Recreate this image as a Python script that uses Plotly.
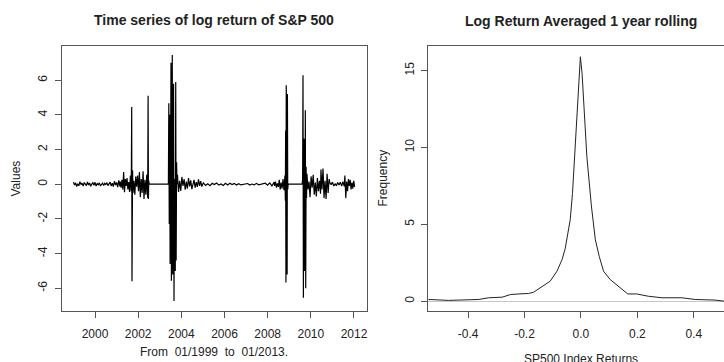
import numpy as np
import plotly.graph_objects as go

# ---------------- Data: time series of log returns ----------------
seg_a_vals = [0.12, -0.05, 0.08, -0.13, 0.03, -0.09, 0.15, -0.02, 0.06, -0.11, 0.10, 0.02,
              -0.08, 0.13, -0.04, 0.07, -0.12, 0.01, 0.09, -0.06, 0.11, -0.10, 0.04, -0.03,
              0.08, -0.09, 0.02, 0.06, -0.07, 0.05, -0.02, 0.09, -0.08, 0.03, 0.12, -0.10,
              0.06, -0.14, 0.18, -0.05, 0.10, -0.17, 0.22, -0.12]
seg_b_vals = [0.15, -0.20, 0.25, -0.30, 0.70, -0.46, 0.30, -0.10, 0.35, -0.30, 0.12, -0.45, 0.50, -0.40]
seg_c_vals = [4.45, -5.60, -1.20, 0.80]
seg_d_vals = [-0.50, 0.20, -0.60, 0.45, -0.15, 0.50, -0.40, 0.70, -0.75, 0.30, -0.50, 0.75,
              -0.85, 0.25, -0.60, 0.55, -0.80]
seg_e_vals = [5.10, -0.85, 0.20]
seg_f_vals = [0.0, 0.0]
seg_g_vals = [0.0, 4.67, -2.30, 4.00, -4.60, 0.30, 7.00, -5.57, 0.20, 7.45, -5.20, 0.40,
              5.80, -6.73, 0.30, 0.10, -5.00, 5.90, -4.40, 1.27, 0.0]
seg_h_vals = [0.55, -0.45, 0.20, -0.38, 0.42, -0.10, 0.30, -0.32, 0.15, -0.25, 0.35, -0.12,
              0.22, -0.28, 0.08, 0.25, -0.20, 0.12, -0.15, 0.28, -0.10, 0.18, -0.14, 0.06]
seg_i_vals = [0.08, -0.07, 0.03, -0.08, 0.05, -0.02, 0.07, -0.05, 0.01, -0.07, 0.05, -0.04,
              0.06, -0.02, 0.04, -0.05, 0.03, -0.04, 0.0, 0.0, 0.04, -0.05, 0.01, -0.04,
              0.05, -0.03, 0.0, 0.0, 0.06, -0.05, 0.08, -0.10, 0.12]
seg_j_vals = [-0.10, 0.15, -0.20, 0.05, -0.15, 0.25, -0.30, 0.10, -0.25, 0.30, -0.35, 0.50]
seg_k_vals = [-0.95, 3.10, -5.67, 5.70, -5.20, 2.50, -5.20, 5.20, -0.30]
seg_l_vals = [0.0, 0.0]
seg_m_vals = [0.30, 6.29, -6.54, 2.64, -5.00, 2.60, -5.00, 4.26, -6.00, 1.00, -0.80]
seg_n_vals = [0.60, -0.30, 0.15, -0.75, 0.45, -0.20, 0.55, -0.60, 0.10, -0.70, 0.35, -0.40, 0.20, -0.55]
seg_o_vals = [0.85, -0.30, 0.90, -0.80, 0.20, -0.85, 0.60, -0.50, 0.30]
seg_p_vals = [0.10, -0.03, 0.12, -0.10, 0.02, -0.09, 0.10, -0.04, 0.12, -0.10, 0.15, -0.12]
seg_q_vals = [0.50, -0.80, 0.15, -0.40, 0.30, -0.10, 0.25, -0.30, 0.10, -0.25, 0.20, -0.15]

segments = [
    (1999.00, 2001.15, seg_a_vals),
    (2001.17, 2001.68, seg_b_vals),
    (2001.70, 2001.74, seg_c_vals),
    (2001.76, 2002.44, seg_d_vals),
    (2002.46, 2002.49, seg_e_vals),
    (2002.51, 2003.38, seg_f_vals),
    (2003.40, 2003.80, seg_g_vals),
    (2003.82, 2005.00, seg_h_vals),
    (2005.02, 2008.30, seg_i_vals),
    (2008.32, 2008.80, seg_j_vals),
    (2008.82, 2008.93, seg_k_vals),
    (2008.95, 2009.60, seg_l_vals),
    (2009.62, 2009.80, seg_m_vals),
    (2009.82, 2010.45, seg_n_vals),
    (2010.47, 2010.85, seg_o_vals),
    (2010.88, 2011.55, seg_p_vals),
    (2011.58, 2012.03, seg_q_vals),
]

ts_years = []
ts_values = []
for start, end, vals in segments:
    ts_years.extend(np.linspace(start, end, len(vals)).tolist())
    ts_values.extend(vals)

# ---------------- Data: density of returns ----------------
dens_x = [-0.541, -0.469, -0.362, -0.327, -0.279, -0.250, -0.220, -0.186, -0.168, -0.138,
          -0.109, -0.085, -0.067, -0.056, -0.038, -0.030, -0.020, -0.011, -0.002, 0.004,
          0.013, 0.021, 0.037, 0.051, 0.065, 0.080, 0.104, 0.133, 0.157, 0.166, 0.198,
          0.239, 0.287, 0.357, 0.405, 0.475, 0.507]
dens_y = [0.11, 0.05, 0.11, 0.22, 0.26, 0.43, 0.47, 0.50, 0.58, 0.93,
          1.30, 1.95, 2.70, 3.40, 5.30, 7.00, 10.3, 13.1, 15.9, 14.8,
          12.2, 9.4, 6.2, 4.0, 2.9, 1.95, 1.40, 0.97, 0.65, 0.47, 0.47,
          0.32, 0.22, 0.22, 0.11, 0.07, 0.0]

ts_ticks = [2000, 2002, 2004, 2006, 2008, 2010, 2012]
ts_ytick_vals = [-6, -4, -2, 0, 2, 4, 6]
ts_ytick_text = ["-6", "-4", "-2", "0", "2", "4", "6"]
dens_xtick_vals = [-0.4, -0.2, 0.0, 0.2, 0.4]
dens_xtick_text = ["-0.4", "-0.2", "0.0", "0.2", "0.4"]
dens_ytick_vals = [0, 5, 10, 15]

title_left = "Time series of log return of S&P 500"
title_right = "Log Return Averaged 1 year rolling"
xlab_left = "From  01/1999  to  01/2013."
ylab_left = "Values"
xlab_right = "SP500 Index Returns"
ylab_right = "Frequency"

# ---------------- Figure ----------------
W, H = 724, 362
T, B = 46, 51
FONT = "Liberation Sans, Arial, sans-serif"
AX = "#555555"
TXT = "#222222"

fig = go.Figure()
fig.add_trace(go.Scatter(x=ts_years, y=ts_values, mode="lines",
                         line=dict(color="black", width=1.2), xaxis="x", yaxis="y",
                         hoverinfo="skip", showlegend=False))
fig.add_trace(go.Scatter(x=dens_x, y=dens_y, mode="lines",
                         line=dict(color="#222222", width=1), xaxis="x2", yaxis="y2",
                         hoverinfo="skip", showlegend=False))

common_axis = dict(showgrid=False, showline=True, linecolor=AX, linewidth=1,
                   ticks="outside", ticklen=6, tickcolor=AX, tickwidth=1,
                   tickfont=dict(family=FONT, size=12, color=TXT))

plot_h = H - T - B

fig.update_layout(
    width=W, height=H,
    margin=dict(l=0, r=0, t=T, b=B),
    paper_bgcolor="white", plot_bgcolor="white",
    showlegend=False,
    xaxis=dict(domain=[62 / W, 366.7 / W], range=[1998.47, 2012.59], mirror=True,
               tickvals=ts_ticks, ticktext=[str(t) for t in ts_ticks], anchor="y",
               zeroline=False, ticklabelstandoff=6, **common_axis),
    yaxis=dict(domain=[0, 1], range=[-7.31, 7.97], mirror=True, anchor="x",
               tickvals=ts_ytick_vals, ticktext=ts_ytick_text, tickangle=-90,
               zeroline=False, ticklabelstandoff=3, **common_axis),
    xaxis2=dict(domain=[428.3 / W, 1.0], range=[-0.541, 0.507], mirror=True, anchor="y2",
                tickvals=dens_xtick_vals, ticktext=dens_xtick_text,
                zeroline=False, ticklabelstandoff=6, **common_axis),
    yaxis2=dict(domain=[0, 1], range=[-0.64, 16.6], mirror=False, anchor="x2",
                tickvals=dens_ytick_vals, ticktext=[str(v) for v in dens_ytick_vals],
                tickangle=-90, ticklabelstandoff=3,
                zeroline=True, zerolinecolor="#c8c8c8", zerolinewidth=1, **common_axis),
)

def py(pix):
    return (H - B - pix) / plot_h

ann = [
    dict(text="<b>" + title_left + "</b>", x=213.5 / W, y=py(20), size=14, angle=0),
    dict(text="<b>" + title_right + "</b>", x=580.5 / W, y=py(21), size=14, angle=0),
    dict(text=xlab_left, x=213.5 / W, y=py(352), size=12, angle=0),
    dict(text=xlab_right, x=580.5 / W, y=py(359), size=12, angle=0),
    dict(text=ylab_left, x=15 / W, y=py(178.5), size=12, angle=-90),
    dict(text=ylab_right, x=382 / W, y=py(178.5), size=12, angle=-90),
]
for a in ann:
    fig.add_annotation(text=a["text"], x=a["x"], y=a["y"], xref="paper", yref="paper",
                       showarrow=False, xanchor="center", yanchor="middle",
                       textangle=a["angle"],
                       font=dict(family=FONT, size=a["size"], color=TXT))

fig.write_html("out.html")
